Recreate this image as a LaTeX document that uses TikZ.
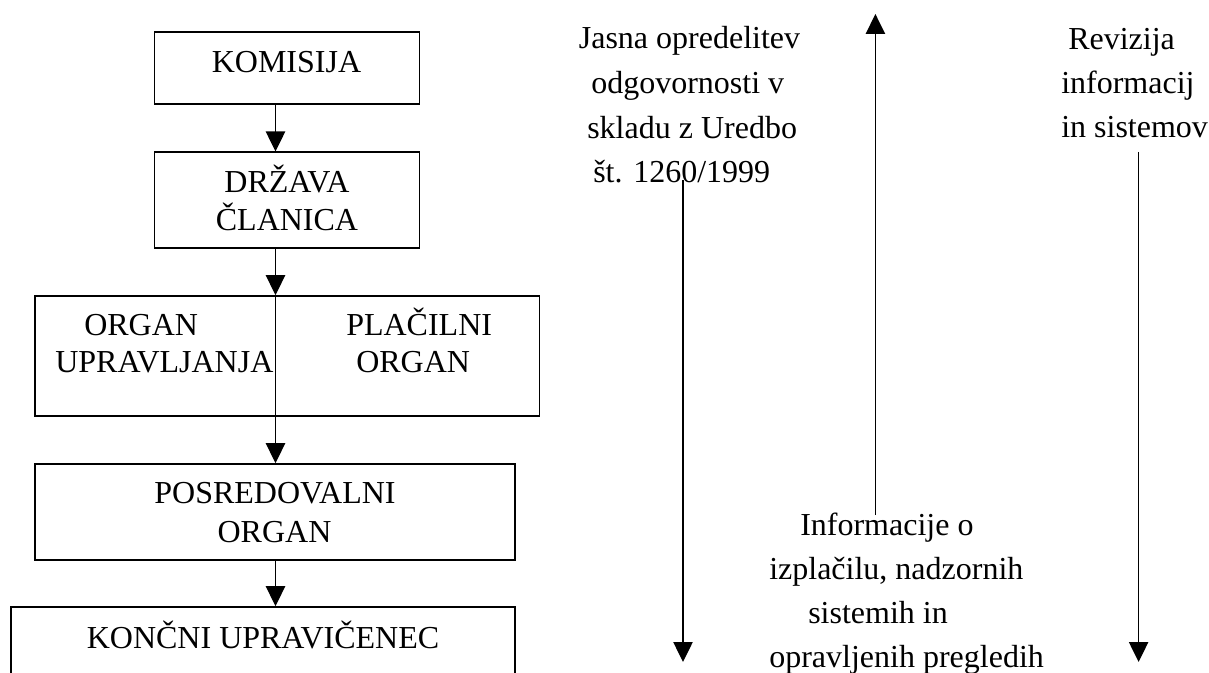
\documentclass[tikz,border=0pt]{standalone}
\usepackage{fontspec}
\setmainfont{Liberation Serif}
\usetikzlibrary{arrows.meta}
\begin{document}
\begin{tikzpicture}[x=0.75pt,y=-0.75pt,
  box/.style={draw, line width=1.2pt, inner sep=0pt},
  txtc/.style={inner sep=0pt, anchor=base, font=\fontsize{24pt}{28.5pt}\selectfont},
  txtl/.style={inner sep=0pt, anchor=base west, font=\fontsize{24pt}{28.5pt}\selectfont},
  conn/.style={line width=1pt, -{Triangle[length=15pt,width=14.5pt]}}
]
\useasboundingbox (0,0) rectangle (1209,673);
\clip (0,0) rectangle (1209,673);

% boxes
\node[box, minimum width=198.6pt, minimum height=54pt] (kom) at (287,68) {};
\node[box, minimum width=198.6pt, minimum height=72pt] (drz) at (287,200.3) {};
\node[box, minimum width=378.6pt, minimum height=90pt] (org) at (287.2,356) {};
\node[box, minimum width=360.2pt, minimum height=72pt] (pos) at (274.9,512) {};
\node[box, minimum width=378.2pt, minimum height=62.25pt] (kon) at (262.85,648.5) {};

% box texts
\node[txtc] (komt) at (286.5,72.7) {KOMISIJA};
\node[txtc] (drzt1) at (287,193) {DRŽAVA};
\node[txtc] (drzt2) at (287,230.5) {ČLANICA};
\node[txtl] (orgt1) at (84,335) {ORGAN};
\node[txtl] (orgt2) at (55,372) {UPRAVLJANJA};
\node[txtl] (plat1) at (346,335) {PLAČILNI};
\node[txtl] (plat2) at (356,372) {ORGAN};
\node[txtc] (post1) at (275,503) {POSREDOVALNI};
\node[txtc] (post2) at (274.5,542) {ORGAN};
\node[txtc] (kont) at (263,648) {KONČNI UPRAVIČENEC};

% free texts
\node[txtl] (j1) at (578.6,49) {Jasna opredelitev};
\node[txtl] (j2) at (591,94) {odgovornosti v};
\node[txtl] (j3) at (587,139) {skladu z Uredbo};
\node[txtl] (j4) at (593,183) {št. 1260/1999};
\node[txtl] (r1) at (1068,50) {Revizija};
\node[txtl] (r2) at (1061,94) {informacij};
\node[txtl] (r3) at (1061,138) {in sistemov};
\node[txtl] (i1) at (800,535) {Informacije o};
\node[txtl] (i2) at (769,579) {izplačilu, nadzornih};
\node[txtl] (i3) at (808,623) {sistemih in};
\node[txtl] (i4) at (769,667) {opravljenih pregledih};

% left column connectors
\coordinate (ax) at (275.5,0);
\draw[conn] (kom.south -| ax) -- (drz.north -| ax);
\draw[conn] (drz.south -| ax) -- (org.north -| ax);
\draw[conn] (org.north -| ax) -- (pos.north -| ax);
\draw[conn] (pos.south -| ax) -- (kon.north -| ax);

% right connectors
\coordinate (a1s) at (683,180);
\coordinate (a1e) at (683,662);
\coordinate (a2s) at (875.4,515);
\coordinate (a2e) at (875.4,14);
\coordinate (a3s) at (1138.6,152);
\coordinate (a3e) at (1138.6,662);
\draw[conn] (a1s) -- (a1e);
\draw[conn] (a2s) -- (a2e);
\draw[conn] (a3s) -- (a3e);
\end{tikzpicture}
\end{document}
